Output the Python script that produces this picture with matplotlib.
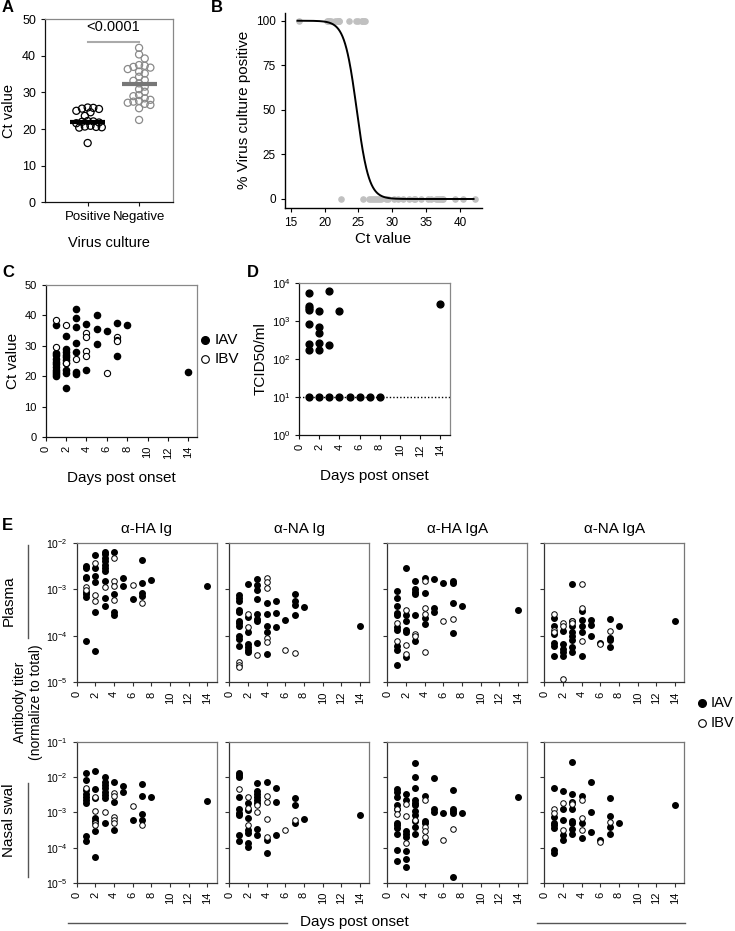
import numpy as np
import matplotlib
matplotlib.use("Agg")
import matplotlib.pyplot as plt
from matplotlib.lines import Line2D
from matplotlib.ticker import FixedLocator, NullLocator, FuncFormatter

plt.rcParams['font.family'] = ['Liberation Sans', 'DejaVu Sans']
plt.rcParams['mathtext.fontset'] = 'custom'
plt.rcParams['mathtext.rm'] = 'Liberation Sans'
plt.rcParams['mathtext.it'] = 'Liberation Sans:italic'
plt.rcParams['mathtext.bf'] = 'Liberation Sans:bold'

# ---------------- DATA ----------------
# Panel A / B : Ct values by virus-culture result
CT_POSITIVE = [25.9, 25.8, 25.6, 25.5, 25.0, 24.6, 23.6, 22.2, 22.1, 22.0, 21.8, 21.6,
               20.9, 20.7, 20.6, 20.5, 20.4, 16.2]
CT_NEGATIVE = [42.2, 40.4, 39.3, 37.5, 37.3, 37.0, 36.8, 36.4, 35.7, 35.2, 34.3, 33.4,
               33.2, 32.5, 31.6, 30.9, 30.2, 29.3, 29.0, 28.4, 28.0, 27.7, 27.5, 27.2,
               26.9, 26.6, 25.7, 22.5]
CULTURE_CATEGORIES = ["Positive", "Negative"]
MEDIAN_POSITIVE = 22.0
MEDIAN_NEGATIVE = 32.2
SIG_BAR_Y = 43.9
P_VALUE_TEXT = "<0.0001"
# Panel B fitted curve parameters (logistic)
CURVE_EC50 = 24.75
CURVE_SCALE = 0.9
CURVE_RANGE = (16.0, 42.0)

# Panel C : Ct value by days post onset
CT_DAYS_IAV = {1: [36.8, 27.7, 26.9, 25.8, 24.7, 24.0, 23.1, 22.2, 21.4, 20.7, 20.0],
               2: [33.2, 28.8, 28.0, 27.1, 26.4, 25.3, 24.4, 22.0, 21.1, 16.2],
               3: [42.0, 39.2, 36.3, 30.8, 27.8, 21.4, 20.7],
               4: [37.1, 22.0], 5: [40.1, 35.4, 30.5], 6: [34.9], 7: [37.4, 26.6],
               8: [36.8], 14: [21.5]}
CT_DAYS_IBV = {1: [38.5, 29.5], 2: [36.8, 24.4], 3: [25.5], 4: [34.3, 33.0, 28.2, 26.7],
               6: [21.1], 7: [33.0, 32.0, 31.5]}

# Panel D : TCID50/ml by days post onset
TCID50_DAYS = {1: [5600, 2450, 2150, 1950, 810, 245, 175, 10],
               2: [1780, 700, 480, 270, 175, 10],
               3: [6200, 235, 10], 4: [1780, 10], 5: [10], 6: [10], 7: [10], 8: [10],
               14: [2800]}
TCID50_LOD = 10

# Panel E : antibody titer (log10, normalized to total) by days post onset
HA_IG_PLASMA_IAV = {1: [-2.49, -2.54, -2.73, -2.76, -3.05, -3.11, -3.16, -4.12],
                    2: [-2.26, -2.55, -2.71, -2.84, -3.49, -4.32],
                    3: [-2.19, -2.25, -2.32, -2.39, -2.48, -2.55, -2.61, -2.82, -3.19, -3.37],
                    4: [-2.21, -3.11, -3.49, -3.56], 5: [-2.75, -2.94], 6: [-3.21],
                    7: [-2.37, -2.87, -3.09, -3.14], 8: [-2.80], 14: [-2.92]}
HA_IG_PLASMA_IBV = {1: [-2.96, -3.01], 2: [-2.44, -3.12, -3.25], 3: [-2.96],
                    4: [-2.32, -2.82, -2.92, -3.23], 6: [-2.91], 7: [-3.30]}
NA_IG_PLASMA_IAV = {1: [-3.12, -3.19, -3.26, -3.44, -3.49, -3.69, -3.72, -3.80, -4.01, -4.06, -4.21],
                    2: [-2.89, -3.59, -3.91, -4.18, -4.25, -4.30, -4.35],
                    3: [-2.78, -2.91, -3.01, -3.21, -3.54, -3.64, -3.69, -4.16],
                    4: [-3.30, -3.54, -3.78, -3.91, -4.39], 5: [-3.26, -3.51, -3.82],
                    6: [-3.66], 7: [-3.11, -3.26, -3.34, -3.56], 8: [-3.39], 14: [-3.78]}
NA_IG_PLASMA_IBV = {1: [-4.56, -4.62, -4.68], 2: [-3.54, -3.82], 3: [-4.41],
                    4: [-2.76, -2.85, -2.98, -4.04, -4.14], 6: [-4.30], 7: [-4.37]}
HA_IGA_PLASMA_IAV = {1: [-3.04, -3.19, -3.37, -3.51, -3.56, -3.82, -3.87, -4.23, -4.31, -4.62],
                     2: [-2.55, -3.56, -3.69, -3.87, -3.92, -4.46],
                     3: [-2.82, -3.00, -3.05, -3.11, -3.56, -4.12],
                     4: [-2.76, -3.09, -3.62, -3.75], 5: [-2.78, -3.41, -3.48], 6: [-2.87],
                     7: [-2.82, -2.87, -3.30, -3.94], 8: [-3.35], 14: [-3.44]}
HA_IGA_PLASMA_IBV = {1: [-3.73, -4.12], 2: [-3.44, -4.19, -4.39], 3: [-3.96, -4.01],
                     4: [-2.82, -3.41, -3.54, -4.34], 6: [-3.69], 7: [-3.64]}
NA_IGA_PLASMA_IAV = {1: [-3.61, -3.78, -3.96, -4.16, -4.21, -4.43],
                     2: [-3.89, -4.18, -4.28, -4.34, -4.44],
                     3: [-2.89, -3.68, -3.80, -3.91, -4.00, -4.09, -4.25, -4.34],
                     4: [-3.46, -3.66, -3.78, -3.92, -4.44], 5: [-3.66, -3.76, -4.00],
                     6: [-4.16], 7: [-3.64, -4.04, -4.09, -4.25], 8: [-3.78], 14: [-3.68]}
NA_IGA_PLASMA_IBV = {1: [-3.54, -3.87, -3.91], 2: [-3.73, -3.78, -4.92], 3: [-3.69, -3.73],
                     4: [-2.89, -3.41, -4.12], 6: [-4.18], 7: [-3.89]}

HA_IG_NASAL_IAV = {1: [-1.87, -2.08, -2.36, -2.46, -2.55, -2.65, -2.72, -3.68, -3.81],
                   2: [-1.82, -2.34, -2.60, -3.17, -3.24, -3.52, -4.27],
                   3: [-2.00, -2.12, -2.22, -2.31, -2.41, -2.50, -2.60, -3.30],
                   4: [-2.12, -2.70, -3.50], 5: [-2.25, -2.41], 6: [-3.20],
                   7: [-2.19, -2.53, -3.03, -3.22], 8: [-2.57], 14: [-2.68]}
HA_IG_NASAL_IBV = {1: [-2.31], 2: [-2.55, -2.95, -3.30, -3.36], 3: [-2.98],
                   4: [-2.44, -2.53, -3.12, -3.22, -3.31], 6: [-2.82], 7: [-3.36]}
NA_IG_NASAL_IAV = {1: [-1.87, -1.93, -2.00, -2.57, -2.91, -3.01, -3.08, -3.65, -3.81],
                   2: [-2.74, -2.93, -3.17, -3.50, -3.58, -3.87, -3.98],
                   3: [-2.15, -2.38, -2.48, -2.57, -2.65, -2.74, -3.46, -3.65],
                   4: [-2.14, -3.77, -4.14], 5: [-2.30, -2.70, -3.63],
                   7: [-2.60, -2.80, -3.29], 8: [-3.19], 14: [-3.06]}
NA_IG_NASAL_IBV = {1: [-2.32], 2: [-2.57, -2.86, -3.36], 3: [-2.79, -2.98],
                   4: [-2.53, -2.70, -3.19, -3.71], 6: [-3.50], 7: [-3.20]}
HA_IGA_NASAL_IAV = {1: [-2.34, -2.41, -2.57, -2.79, -2.89, -3.30, -3.36, -3.43, -3.62, -4.06, -4.39],
                    2: [-2.46, -2.63, -3.52, -3.60, -3.70, -4.10, -4.32, -4.55],
                    3: [-1.58, -1.98, -2.31, -2.63, -2.72, -2.79, -2.95, -3.08, -3.24, -3.41, -3.62],
                    4: [-2.53, -3.24, -3.30, -3.84], 5: [-2.03, -2.89, -2.98], 6: [-3.01],
                    7: [-2.36, -2.89, -2.95, -3.01, -4.84], 8: [-3.01], 14: [-2.55]}
HA_IGA_NASAL_IBV = {1: [-2.89, -3.03], 2: [-2.76, -3.10, -3.87], 3: [-3.22],
                    4: [-2.63, -3.41, -3.52, -3.70], 6: [-3.79], 7: [-3.46]}
NA_IGA_NASAL_IAV = {1: [-2.31, -3.12, -3.30, -3.36, -3.43, -4.06, -4.15],
                    2: [-2.38, -2.91, -3.20, -3.65, -3.79],
                    3: [-1.57, -2.48, -2.70, -2.91, -3.24, -3.30, -3.46, -3.62],
                    4: [-2.53, -3.30, -3.74], 5: [-2.12, -2.98, -3.55], 6: [-3.77],
                    7: [-2.60, -3.10, -3.41, -3.60], 8: [-3.29], 14: [-2.79]}
NA_IGA_NASAL_IBV = {1: [-2.89, -3.01], 2: [-2.74, -3.49], 3: [-2.74, -2.76],
                    4: [-2.63, -3.15, -3.49], 6: [-3.84], 7: [-3.27]}

E_TITLES = ["α-HA Ig", "α-NA Ig", "α-HA IgA", "α-NA IgA"]
E_PLASMA = [(HA_IG_PLASMA_IAV, HA_IG_PLASMA_IBV), (NA_IG_PLASMA_IAV, NA_IG_PLASMA_IBV),
            (HA_IGA_PLASMA_IAV, HA_IGA_PLASMA_IBV), (NA_IGA_PLASMA_IAV, NA_IGA_PLASMA_IBV)]
E_NASAL = [(HA_IG_NASAL_IAV, HA_IG_NASAL_IBV), (NA_IG_NASAL_IAV, NA_IG_NASAL_IBV),
           (HA_IGA_NASAL_IAV, HA_IGA_NASAL_IBV), (NA_IGA_NASAL_IAV, NA_IGA_NASAL_IBV)]
DAY_TICKS = [0, 2, 4, 6, 8, 10, 12, 14]
GROUP_LABELS = ["IAV", "IBV"]

# ---------------- FIGURE ----------------
W, H = 735, 931
fig = plt.figure(figsize=(W / 100, H / 100), dpi=100)


def add_ax(l, t, r, b):
    return fig.add_axes([l / W, 1 - b / H, (r - l) / W, (b - t) / H])


def style_box(ax, dark='#111111', light='#888888', lw=0.9):
    for s in ['left', 'bottom']:
        ax.spines[s].set_color(dark)
        ax.spines[s].set_linewidth(lw)
    for s in ['top', 'right']:
        ax.spines[s].set_color(light)
        ax.spines[s].set_linewidth(lw)
    ax.tick_params(which='both', top=False, right=False, length=3, width=0.8, color=dark)


def flatten(d, log=False):
    xs, ys = [], []
    for day, vals in d.items():
        for v in vals:
            xs.append(day)
            ys.append(10 ** v if log else v)
    return xs, ys


def beeswarm(vals, dx, dy):
    order = np.argsort(vals)[::-1]
    placed = []
    xs = np.zeros(len(vals))
    cands = [0.0]
    for j in range(1, 40):
        cands += [j * 0.5, -j * 0.5]
    for i in order:
        v = vals[i]
        for c in cands:
            x = c * dx
            if all(((x - px) / dx) ** 2 + ((v - py) / dy) ** 2 >= 1.0 for px, py in placed):
                break
        placed.append((x, v))
        xs[i] = x
    return xs


def label(x, y, s):
    fig.text(x / W, 1 - y / H, s, fontsize=12, fontweight='bold', ha='center', va='center')


def manual_legend(x_marker, y_first, dy, fontsize, gap):
    styles = [dict(color='black'), dict(mfc='white', mec='black', mew=0.8)]
    for k, (lab, st) in enumerate(zip(GROUP_LABELS, styles)):
        yy = 1 - (y_first + k * dy) / H
        fig.add_artist(Line2D([x_marker / W], [yy], ls='none', marker='o', ms=5.5, **st))
        fig.text((x_marker + gap) / W, yy, lab, fontsize=fontsize, ha='left', va='center')


# ---------- Panel A ----------
axA = add_ax(45, 19.3, 173, 202.3)
style_box(axA)
axA.set_xlim(-0.83, 1.66)
axA.set_ylim(0, 50)
dxA, dyA = 0.11, 1.35
pos = np.array(CT_POSITIVE)
neg = np.array(CT_NEGATIVE)
axA.scatter(0 + beeswarm(pos, dxA, dyA), pos, s=26, facecolors='none', edgecolors='black',
            linewidths=0.9, zorder=3)
axA.scatter(1 + beeswarm(neg, dxA, dyA), neg, s=26, facecolors='none', edgecolors='#8a8a8a',
            linewidths=0.9, zorder=3)
axA.plot([-0.34, 0.34], [MEDIAN_POSITIVE] * 2, color='black', lw=3, zorder=4, solid_capstyle='butt')
axA.plot([0.66, 1.34], [MEDIAN_NEGATIVE] * 2, color='#777777', lw=3, zorder=4, solid_capstyle='butt')
axA.plot([0, 1], [SIG_BAR_Y] * 2, color='#aaaaaa', lw=1.5)
axA.text(0.5, 47.9, P_VALUE_TEXT, ha='center', va='center', fontsize=10.5)
axA.set_xticks([0, 1])
axA.set_xticklabels(CULTURE_CATEGORIES, fontsize=9.5)
axA.set_yticks(range(0, 51, 10))
axA.tick_params(axis='y', labelsize=9)
axA.set_ylabel("Ct value", fontsize=10.5, labelpad=4)
axA.set_xlabel("Virus culture", fontsize=10.5, labelpad=9)

# ---------- Panel B ----------
axB = add_ax(285, 12.7, 481.7, 208)
axB.spines['top'].set_visible(False)
axB.spines['right'].set_visible(False)
axB.spines['left'].set_linewidth(1.0)
axB.spines['bottom'].set_linewidth(1.0)
axB.set_xlim(14.16, 43.2)
axB.set_ylim(-5.05, 104.5)
axB.scatter(CT_POSITIVE, [100] * len(CT_POSITIVE), s=14, color='#c0c0c0', zorder=2, clip_on=False)
axB.scatter(CT_NEGATIVE, [0] * len(CT_NEGATIVE), s=14, color='#c0c0c0', zorder=2, clip_on=False)
xc = np.linspace(CURVE_RANGE[0], CURVE_RANGE[1], 400)
yc = 100.0 / (1.0 + np.exp((xc - CURVE_EC50) / CURVE_SCALE))
axB.plot(xc, yc, color='black', lw=1.4, zorder=3)
axB.set_xticks([15, 20, 25, 30, 35, 40])
axB.set_yticks([0, 25, 50, 75, 100])
axB.tick_params(labelsize=8.5, length=3, width=0.8)
axB.set_ylabel("% Virus culture positive", fontsize=11, labelpad=4)
axB.set_xlabel("Ct value", fontsize=11, labelpad=2)

# ---------- Panel C ----------
axC = add_ax(45.7, 285, 197, 437)
style_box(axC)
axC.set_xlim(0, 14.85)
axC.set_ylim(0, 50)
x, y = flatten(CT_DAYS_IAV)
axC.scatter(x, y, s=20, color='black', zorder=3)
x, y = flatten(CT_DAYS_IBV)
axC.scatter(x, y, s=20, facecolors='white', edgecolors='black', linewidths=0.8, zorder=4)
axC.set_xticks(DAY_TICKS)
axC.set_xticklabels([str(d) for d in DAY_TICKS], rotation=90, fontsize=8)
axC.set_yticks(range(0, 51, 10))
axC.tick_params(axis='y', labelsize=8)
axC.set_ylabel("Ct value", fontsize=11, labelpad=3)
axC.set_xlabel("Days post onset", fontsize=11, labelpad=9)
manual_legend(205, 340, 19, 11, 10)

# ---------- Panel D ----------
axD = add_ax(299.3, 283, 450, 435)
style_box(axD)
axD.set_yscale('log')
axD.set_xlim(0, 15)
axD.set_ylim(1, 1e4)
axD.plot([0, 15], [TCID50_LOD] * 2, color='black', lw=1.0, ls=(0, (1, 1.5)), zorder=2)
x, y = flatten(TCID50_DAYS)
axD.scatter(x, y, s=24, color='black', zorder=3, clip_on=False)
axD.yaxis.set_major_locator(FixedLocator([1, 10, 100, 1000, 10000]))
axD.yaxis.set_minor_locator(NullLocator())
axD.yaxis.set_major_formatter(FuncFormatter(lambda v, p: r'$\mathregular{10^{%d}}$' % round(np.log10(v))))
axD.set_xticks(DAY_TICKS)
axD.set_xticklabels([str(d) for d in DAY_TICKS], rotation=90, fontsize=8)
axD.tick_params(axis='y', labelsize=8)
axD.set_ylabel("TCID50/ml", fontsize=11, labelpad=3)
axD.set_xlabel("Days post onset", fontsize=11, labelpad=9)

# ---------- Panel E ----------
col_left = [76.5, 229.3, 387.3, 544.3]
col_w = 140
rows = [(542.7, 682.3, E_PLASMA, (1e-5, 1e-2)), (742.3, 882.7, E_NASAL, (1e-5, 1e-1))]
for ri, (top, bot, panel_data, ylim) in enumerate(rows):
    for ci, (iav, ibv) in enumerate(panel_data):
        ax = add_ax(col_left[ci], top, col_left[ci] + col_w, bot)
        style_box(ax, dark='#333333', light='#777777')
        ax.set_yscale('log')
        ax.set_xlim(0, 15)
        ax.set_ylim(*ylim)
        x, y = flatten(iav, log=True)
        ax.scatter(x, y, s=16, color='black', zorder=3, clip_on=False)
        x, y = flatten(ibv, log=True)
        ax.scatter(x, y, s=16, facecolors='white', edgecolors='black', linewidths=0.7, zorder=4,
                   clip_on=False)
        exps = list(range(int(round(np.log10(ylim[0]))), int(round(np.log10(ylim[1]))) + 1))
        ax.yaxis.set_major_locator(FixedLocator([10.0 ** e for e in exps]))
        ax.yaxis.set_minor_locator(NullLocator())
        if ci == 0:
            ax.yaxis.set_major_formatter(FuncFormatter(
                lambda v, p: r'$\mathregular{10^{%d}}$' % round(np.log10(v))))
            ax.tick_params(axis='y', labelsize=7.5)
        else:
            ax.set_yticklabels([])
        ax.set_xticks(DAY_TICKS)
        ax.set_xticklabels([str(d) for d in DAY_TICKS], rotation=90, fontsize=8)
        if ri == 0:
            ax.set_title(E_TITLES[ci], fontsize=11, pad=7)


def vline_fig(x, y0, y1):
    fig.add_artist(Line2D([x / W, x / W], [1 - y0 / H, 1 - y1 / H], color='#555555', lw=1.0))


def hline_fig(x0, x1, y):
    fig.add_artist(Line2D([x0 / W, x1 / W], [1 - y / H, 1 - y / H], color='#555555', lw=1.0))


fig.text(9 / W, 1 - 601 / H, "Plasma", rotation=90, fontsize=11, ha='center', va='center')
vline_fig(28, 545, 638)
fig.text(9 / W, 1 - 820 / H, "Nasal swal", rotation=90, fontsize=11, ha='center', va='center')
vline_fig(28, 783, 877)
fig.text(28 / W, 1 - 702 / H, "Antibody titer\n(normalize to total)", rotation=90, fontsize=10,
         ha='center', va='center', multialignment='center', linespacing=1.1)
hline_fig(68, 287, 922.5)
hline_fig(537, 685, 922.5)
fig.text(300 / W, 1 - 922 / H, "Days post onset", fontsize=11, ha='left', va='center')

manual_legend(702, 703, 20, 10.5, 8.5)

# Panel letters
label(8, 8, "A")
label(217, 8, "B")
label(8, 272, "C")
label(253, 272, "D")
label(7.5, 525, "E")

fig.savefig("out.png", dpi=100)
